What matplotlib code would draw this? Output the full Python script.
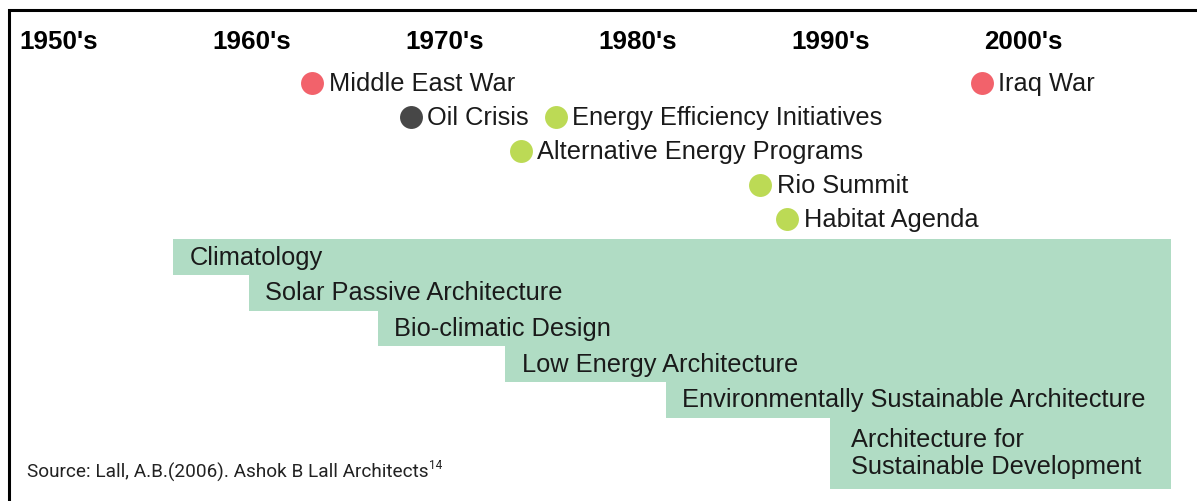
import matplotlib.pyplot as plt

# decades across the top
decades = ["1950's", "1960's", "1970's", "1980's", "1990's", "2000's"]
decade_years = [1950, 1960, 1970, 1980, 1990, 2000]

# events: label, year (dot position), row, kind
event_labels = ["Middle East War", "Iraq War", "Oil Crisis", "Energy Efficiency Initiatives",
                "Alternative Energy Programs", "Rio Summit", "Habitat Agenda"]
event_years = [1965.2, 1999.9, 1970.3, 1977.8, 1976.0, 1988.4, 1989.8]
event_rows = [0, 0, 1, 1, 2, 3, 4]
event_kind = ["war", "war", "oil", "green", "green", "green", "green"]

# design approaches: label, start year, row span
approach_labels = ["Climatology", "Solar Passive Architecture", "Bio-climatic Design",
                   "Low Energy Architecture", "Environmentally Sustainable Architecture",
                   "Architecture for\nSustainable Development"]
approach_start = [1958.0, 1961.9, 1968.6, 1975.2, 1983.5, 1992.0]
approach_span = [1, 1, 1, 1, 1, 2]
approach_end = 2009.7

kind_colors = {"war": "#F2626B", "oil": "#474747", "green": "#BCDA55"}
band_color = "#B0DCC4"

# pixel layout helpers
px_per_year = 19.3
x0 = 1950 - 19 / px_per_year
x1 = x0 + 1197 / px_per_year

fig = plt.figure(figsize=(11.97, 5.02), dpi=100)
ax = fig.add_axes([0, 0, 1, 1])
ax.set_xlim(x0, x1)
ax.set_ylim(502, 0)
ax.axis('off')

body = ['Liberation Sans', 'DejaVu Sans']
narrow = ['Roboto', 'DejaVu Sans']

# frame (left and top edge)
ax.plot([x0 + 9 / px_per_year, x0 + 9 / px_per_year, x1], [502, 11, 11],
        color='black', linewidth=2.2, solid_joinstyle='miter')

for lab, yr in zip(decades, decade_years):
    ax.text(yr, 42, lab, fontsize=18.7, fontweight='bold', family=body,
            ha='left', va='center')

ev_top, ev_step = 84, 34
for lab, yr, r, k in zip(event_labels, event_years, event_rows, event_kind):
    y = ev_top + ev_step * r
    ax.plot(yr, y, 'o', color=kind_colors[k], markersize=16.5, markeredgewidth=0)
    ax.text(yr + 0.85, y, lab, fontsize=18.3, family=body,
            ha='left', va='center', color='#1a1a1a')

band_top, row_h = 240, 35.6
row = 0
for lab, st, sp in zip(approach_labels, approach_start, approach_span):
    y = band_top + row * row_h
    ax.barh(y, approach_end - st, left=st, height=row_h * sp + 0.6, align='edge',
            color=band_color, linewidth=0)
    pad = 0.85 if sp == 1 else 1.1
    ax.text(st + pad, y + row_h * sp / 2, lab, fontsize=18.3, family=body,
            ha='left', va='center', color='#1a1a1a', linespacing=1.15)
    row += sp

src = ax.text(x0 + 27 / px_per_year, 472, "Source: Lall, A.B.(2006). Ashok B Lall Architects",
              fontsize=13.7, family=narrow, ha='left', va='center', color='#222222')
ax.annotate("14", xy=(1, 0.85), xycoords=src, fontsize=8.5, family=narrow,
            ha='left', va='center', color='#222222', xytext=(0.5, 0),
            textcoords='offset points')

fig.savefig('out.png', dpi=100)
